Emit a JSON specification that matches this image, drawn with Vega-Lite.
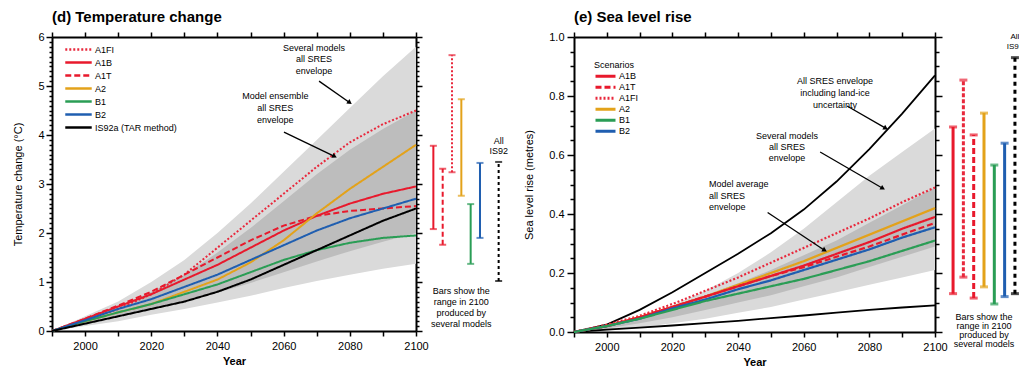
{
"$schema": "https://vega.github.io/schema/vega-lite/v6.json",
"padding": {"left": 12, "top": 10, "right": 0, "bottom": 0},
"background": "white",
"config": {
  "font": "Liberation Sans",
  "view": {"stroke": null},
  "axis": {"domainColor": "black", "domainWidth": 2, "tickColor": "black", "tickWidth": 1.5, "labelColor": "black", "labelFontSize": 11, "titleColor": "black", "titleFontSize": 11, "grid": false},
  "legend": {"labelColor": "black", "titleColor": "black"}
},
"datasets": {
  "tempEnv": [
    {"band": "Several models all SRES envelope", "year": 1990, "lower": 0, "upper": 0},
    {"band": "Several models all SRES envelope", "year": 2000, "lower": 0.1, "upper": 0.3},
    {"band": "Several models all SRES envelope", "year": 2010, "lower": 0.2, "upper": 0.6},
    {"band": "Several models all SRES envelope", "year": 2020, "lower": 0.33, "upper": 1.0},
    {"band": "Several models all SRES envelope", "year": 2030, "lower": 0.45, "upper": 1.45},
    {"band": "Several models all SRES envelope", "year": 2040, "lower": 0.58, "upper": 2.0},
    {"band": "Several models all SRES envelope", "year": 2050, "lower": 0.72, "upper": 2.6},
    {"band": "Several models all SRES envelope", "year": 2060, "lower": 0.88, "upper": 3.25},
    {"band": "Several models all SRES envelope", "year": 2070, "lower": 1.02, "upper": 3.9},
    {"band": "Several models all SRES envelope", "year": 2080, "lower": 1.15, "upper": 4.55},
    {"band": "Several models all SRES envelope", "year": 2090, "lower": 1.27, "upper": 5.2},
    {"band": "Several models all SRES envelope", "year": 2100, "lower": 1.37, "upper": 5.8},
    {"band": "Model ensemble all SRES envelope", "year": 1990, "lower": 0, "upper": 0},
    {"band": "Model ensemble all SRES envelope", "year": 2000, "lower": 0.15, "upper": 0.25},
    {"band": "Model ensemble all SRES envelope", "year": 2010, "lower": 0.3, "upper": 0.5},
    {"band": "Model ensemble all SRES envelope", "year": 2020, "lower": 0.45, "upper": 0.8},
    {"band": "Model ensemble all SRES envelope", "year": 2030, "lower": 0.6, "upper": 1.15},
    {"band": "Model ensemble all SRES envelope", "year": 2040, "lower": 0.78, "upper": 1.6},
    {"band": "Model ensemble all SRES envelope", "year": 2050, "lower": 0.98, "upper": 2.1},
    {"band": "Model ensemble all SRES envelope", "year": 2060, "lower": 1.2, "upper": 2.65},
    {"band": "Model ensemble all SRES envelope", "year": 2070, "lower": 1.42, "upper": 3.2},
    {"band": "Model ensemble all SRES envelope", "year": 2080, "lower": 1.63, "upper": 3.7},
    {"band": "Model ensemble all SRES envelope", "year": 2090, "lower": 1.82, "upper": 4.12},
    {"band": "Model ensemble all SRES envelope", "year": 2100, "lower": 2.0, "upper": 4.5}
  ],
  "tempLines": [
    {"scenario": "A1FI", "year": 1990, "value": 0}, {"scenario": "A1FI", "year": 2000, "value": 0.22}, {"scenario": "A1FI", "year": 2010, "value": 0.45}, {"scenario": "A1FI", "year": 2020, "value": 0.75}, {"scenario": "A1FI", "year": 2030, "value": 1.15}, {"scenario": "A1FI", "year": 2040, "value": 1.7}, {"scenario": "A1FI", "year": 2050, "value": 2.25}, {"scenario": "A1FI", "year": 2060, "value": 2.8}, {"scenario": "A1FI", "year": 2070, "value": 3.35}, {"scenario": "A1FI", "year": 2080, "value": 3.85}, {"scenario": "A1FI", "year": 2090, "value": 4.22}, {"scenario": "A1FI", "year": 2100, "value": 4.5},
    {"scenario": "A1B", "year": 1990, "value": 0}, {"scenario": "A1B", "year": 2000, "value": 0.25}, {"scenario": "A1B", "year": 2010, "value": 0.5}, {"scenario": "A1B", "year": 2020, "value": 0.75}, {"scenario": "A1B", "year": 2030, "value": 1.05}, {"scenario": "A1B", "year": 2040, "value": 1.35}, {"scenario": "A1B", "year": 2050, "value": 1.7}, {"scenario": "A1B", "year": 2060, "value": 2.05}, {"scenario": "A1B", "year": 2070, "value": 2.35}, {"scenario": "A1B", "year": 2080, "value": 2.6}, {"scenario": "A1B", "year": 2090, "value": 2.8}, {"scenario": "A1B", "year": 2100, "value": 2.95},
    {"scenario": "A1T", "year": 1990, "value": 0}, {"scenario": "A1T", "year": 2000, "value": 0.25}, {"scenario": "A1T", "year": 2010, "value": 0.52}, {"scenario": "A1T", "year": 2020, "value": 0.8}, {"scenario": "A1T", "year": 2030, "value": 1.15}, {"scenario": "A1T", "year": 2040, "value": 1.5}, {"scenario": "A1T", "year": 2050, "value": 1.85}, {"scenario": "A1T", "year": 2060, "value": 2.15}, {"scenario": "A1T", "year": 2070, "value": 2.35}, {"scenario": "A1T", "year": 2080, "value": 2.45}, {"scenario": "A1T", "year": 2090, "value": 2.5}, {"scenario": "A1T", "year": 2100, "value": 2.55},
    {"scenario": "A2", "year": 1990, "value": 0}, {"scenario": "A2", "year": 2000, "value": 0.2}, {"scenario": "A2", "year": 2010, "value": 0.38}, {"scenario": "A2", "year": 2020, "value": 0.55}, {"scenario": "A2", "year": 2030, "value": 0.8}, {"scenario": "A2", "year": 2040, "value": 1.05}, {"scenario": "A2", "year": 2050, "value": 1.4}, {"scenario": "A2", "year": 2060, "value": 1.85}, {"scenario": "A2", "year": 2070, "value": 2.4}, {"scenario": "A2", "year": 2080, "value": 2.9}, {"scenario": "A2", "year": 2090, "value": 3.35}, {"scenario": "A2", "year": 2100, "value": 3.8},
    {"scenario": "B1", "year": 1990, "value": 0}, {"scenario": "B1", "year": 2000, "value": 0.2}, {"scenario": "B1", "year": 2010, "value": 0.38}, {"scenario": "B1", "year": 2020, "value": 0.55}, {"scenario": "B1", "year": 2030, "value": 0.75}, {"scenario": "B1", "year": 2040, "value": 0.95}, {"scenario": "B1", "year": 2050, "value": 1.2}, {"scenario": "B1", "year": 2060, "value": 1.45}, {"scenario": "B1", "year": 2070, "value": 1.65}, {"scenario": "B1", "year": 2080, "value": 1.8}, {"scenario": "B1", "year": 2090, "value": 1.9}, {"scenario": "B1", "year": 2100, "value": 1.95},
    {"scenario": "B2", "year": 1990, "value": 0}, {"scenario": "B2", "year": 2000, "value": 0.22}, {"scenario": "B2", "year": 2010, "value": 0.45}, {"scenario": "B2", "year": 2020, "value": 0.65}, {"scenario": "B2", "year": 2030, "value": 0.9}, {"scenario": "B2", "year": 2040, "value": 1.15}, {"scenario": "B2", "year": 2050, "value": 1.45}, {"scenario": "B2", "year": 2060, "value": 1.75}, {"scenario": "B2", "year": 2070, "value": 2.05}, {"scenario": "B2", "year": 2080, "value": 2.3}, {"scenario": "B2", "year": 2090, "value": 2.5}, {"scenario": "B2", "year": 2100, "value": 2.7},
    {"scenario": "IS92a (TAR method)", "year": 1990, "value": 0}, {"scenario": "IS92a (TAR method)", "year": 2000, "value": 0.15}, {"scenario": "IS92a (TAR method)", "year": 2010, "value": 0.3}, {"scenario": "IS92a (TAR method)", "year": 2020, "value": 0.45}, {"scenario": "IS92a (TAR method)", "year": 2030, "value": 0.6}, {"scenario": "IS92a (TAR method)", "year": 2040, "value": 0.8}, {"scenario": "IS92a (TAR method)", "year": 2050, "value": 1.05}, {"scenario": "IS92a (TAR method)", "year": 2060, "value": 1.35}, {"scenario": "IS92a (TAR method)", "year": 2070, "value": 1.65}, {"scenario": "IS92a (TAR method)", "year": 2080, "value": 1.95}, {"scenario": "IS92a (TAR method)", "year": 2090, "value": 2.25}, {"scenario": "IS92a (TAR method)", "year": 2100, "value": 2.5}
  ],
  "tempBars": [
    {"scenario": "A1B", "low": 2.08, "high": 3.78},
    {"scenario": "A1T", "low": 1.76, "high": 3.31},
    {"scenario": "A1FI", "low": 3.24, "high": 5.63},
    {"scenario": "A2", "low": 2.76, "high": 4.73},
    {"scenario": "B1", "low": 1.37, "high": 2.59},
    {"scenario": "B2", "low": 1.9, "high": 3.43},
    {"scenario": "IS92", "low": 1.02, "high": 3.45}
  ],
  "seaEnv": [
    {"band": "Several models all SRES envelope", "year": 1990, "lower": 0, "upper": 0},
    {"band": "Several models all SRES envelope", "year": 2000, "lower": 0.005, "upper": 0.02},
    {"band": "Several models all SRES envelope", "year": 2010, "lower": 0.015, "upper": 0.05},
    {"band": "Several models all SRES envelope", "year": 2020, "lower": 0.03, "upper": 0.09},
    {"band": "Several models all SRES envelope", "year": 2030, "lower": 0.045, "upper": 0.14},
    {"band": "Several models all SRES envelope", "year": 2040, "lower": 0.065, "upper": 0.2},
    {"band": "Several models all SRES envelope", "year": 2050, "lower": 0.085, "upper": 0.27},
    {"band": "Several models all SRES envelope", "year": 2060, "lower": 0.11, "upper": 0.35},
    {"band": "Several models all SRES envelope", "year": 2070, "lower": 0.135, "upper": 0.44},
    {"band": "Several models all SRES envelope", "year": 2080, "lower": 0.16, "upper": 0.53},
    {"band": "Several models all SRES envelope", "year": 2090, "lower": 0.185, "upper": 0.61},
    {"band": "Several models all SRES envelope", "year": 2100, "lower": 0.21, "upper": 0.69},
    {"band": "Model average all SRES envelope", "year": 1990, "lower": 0, "upper": 0},
    {"band": "Model average all SRES envelope", "year": 2000, "lower": 0.012, "upper": 0.022},
    {"band": "Model average all SRES envelope", "year": 2010, "lower": 0.03, "upper": 0.05},
    {"band": "Model average all SRES envelope", "year": 2020, "lower": 0.05, "upper": 0.085},
    {"band": "Model average all SRES envelope", "year": 2030, "lower": 0.075, "upper": 0.125},
    {"band": "Model average all SRES envelope", "year": 2040, "lower": 0.1, "upper": 0.165},
    {"band": "Model average all SRES envelope", "year": 2050, "lower": 0.125, "upper": 0.21},
    {"band": "Model average all SRES envelope", "year": 2060, "lower": 0.155, "upper": 0.26},
    {"band": "Model average all SRES envelope", "year": 2070, "lower": 0.185, "upper": 0.31},
    {"band": "Model average all SRES envelope", "year": 2080, "lower": 0.22, "upper": 0.37},
    {"band": "Model average all SRES envelope", "year": 2090, "lower": 0.255, "upper": 0.43},
    {"band": "Model average all SRES envelope", "year": 2100, "lower": 0.29, "upper": 0.49}
  ],
  "seaLandIce": [
    {"bound": "upper", "year": 1990, "value": 0}, {"bound": "upper", "year": 2000, "value": 0.025}, {"bound": "upper", "year": 2010, "value": 0.075}, {"bound": "upper", "year": 2020, "value": 0.135}, {"bound": "upper", "year": 2030, "value": 0.2}, {"bound": "upper", "year": 2040, "value": 0.265}, {"bound": "upper", "year": 2050, "value": 0.335}, {"bound": "upper", "year": 2060, "value": 0.415}, {"bound": "upper", "year": 2070, "value": 0.51}, {"bound": "upper", "year": 2080, "value": 0.62}, {"bound": "upper", "year": 2090, "value": 0.74}, {"bound": "upper", "year": 2100, "value": 0.87},
    {"bound": "lower", "year": 1990, "value": 0}, {"bound": "lower", "year": 2000, "value": 0.008}, {"bound": "lower", "year": 2010, "value": 0.015}, {"bound": "lower", "year": 2020, "value": 0.022}, {"bound": "lower", "year": 2030, "value": 0.03}, {"bound": "lower", "year": 2040, "value": 0.038}, {"bound": "lower", "year": 2050, "value": 0.047}, {"bound": "lower", "year": 2060, "value": 0.056}, {"bound": "lower", "year": 2070, "value": 0.066}, {"bound": "lower", "year": 2080, "value": 0.075}, {"bound": "lower", "year": 2090, "value": 0.083}, {"bound": "lower", "year": 2100, "value": 0.09}
  ],
  "seaLines": [
    {"scenario": "A1FI", "year": 1990, "value": 0}, {"scenario": "A1FI", "year": 2000, "value": 0.025}, {"scenario": "A1FI", "year": 2010, "value": 0.055}, {"scenario": "A1FI", "year": 2020, "value": 0.095}, {"scenario": "A1FI", "year": 2030, "value": 0.14}, {"scenario": "A1FI", "year": 2040, "value": 0.185}, {"scenario": "A1FI", "year": 2050, "value": 0.235}, {"scenario": "A1FI", "year": 2060, "value": 0.285}, {"scenario": "A1FI", "year": 2070, "value": 0.335}, {"scenario": "A1FI", "year": 2080, "value": 0.385}, {"scenario": "A1FI", "year": 2090, "value": 0.44}, {"scenario": "A1FI", "year": 2100, "value": 0.49},
    {"scenario": "A2", "year": 1990, "value": 0}, {"scenario": "A2", "year": 2000, "value": 0.02}, {"scenario": "A2", "year": 2010, "value": 0.05}, {"scenario": "A2", "year": 2020, "value": 0.085}, {"scenario": "A2", "year": 2030, "value": 0.12}, {"scenario": "A2", "year": 2040, "value": 0.16}, {"scenario": "A2", "year": 2050, "value": 0.2}, {"scenario": "A2", "year": 2060, "value": 0.24}, {"scenario": "A2", "year": 2070, "value": 0.285}, {"scenario": "A2", "year": 2080, "value": 0.33}, {"scenario": "A2", "year": 2090, "value": 0.375}, {"scenario": "A2", "year": 2100, "value": 0.42},
    {"scenario": "A1B", "year": 1990, "value": 0}, {"scenario": "A1B", "year": 2000, "value": 0.02}, {"scenario": "A1B", "year": 2010, "value": 0.05}, {"scenario": "A1B", "year": 2020, "value": 0.085}, {"scenario": "A1B", "year": 2030, "value": 0.12}, {"scenario": "A1B", "year": 2040, "value": 0.155}, {"scenario": "A1B", "year": 2050, "value": 0.19}, {"scenario": "A1B", "year": 2060, "value": 0.225}, {"scenario": "A1B", "year": 2070, "value": 0.265}, {"scenario": "A1B", "year": 2080, "value": 0.305}, {"scenario": "A1B", "year": 2090, "value": 0.35}, {"scenario": "A1B", "year": 2100, "value": 0.39},
    {"scenario": "A1T", "year": 1990, "value": 0}, {"scenario": "A1T", "year": 2000, "value": 0.02}, {"scenario": "A1T", "year": 2010, "value": 0.05}, {"scenario": "A1T", "year": 2020, "value": 0.085}, {"scenario": "A1T", "year": 2030, "value": 0.12}, {"scenario": "A1T", "year": 2040, "value": 0.155}, {"scenario": "A1T", "year": 2050, "value": 0.19}, {"scenario": "A1T", "year": 2060, "value": 0.22}, {"scenario": "A1T", "year": 2070, "value": 0.255}, {"scenario": "A1T", "year": 2080, "value": 0.29}, {"scenario": "A1T", "year": 2090, "value": 0.33}, {"scenario": "A1T", "year": 2100, "value": 0.37},
    {"scenario": "B2", "year": 1990, "value": 0}, {"scenario": "B2", "year": 2000, "value": 0.02}, {"scenario": "B2", "year": 2010, "value": 0.045}, {"scenario": "B2", "year": 2020, "value": 0.08}, {"scenario": "B2", "year": 2030, "value": 0.11}, {"scenario": "B2", "year": 2040, "value": 0.145}, {"scenario": "B2", "year": 2050, "value": 0.175}, {"scenario": "B2", "year": 2060, "value": 0.21}, {"scenario": "B2", "year": 2070, "value": 0.245}, {"scenario": "B2", "year": 2080, "value": 0.28}, {"scenario": "B2", "year": 2090, "value": 0.32}, {"scenario": "B2", "year": 2100, "value": 0.355},
    {"scenario": "B1", "year": 1990, "value": 0}, {"scenario": "B1", "year": 2000, "value": 0.02}, {"scenario": "B1", "year": 2010, "value": 0.045}, {"scenario": "B1", "year": 2020, "value": 0.075}, {"scenario": "B1", "year": 2030, "value": 0.105}, {"scenario": "B1", "year": 2040, "value": 0.13}, {"scenario": "B1", "year": 2050, "value": 0.155}, {"scenario": "B1", "year": 2060, "value": 0.18}, {"scenario": "B1", "year": 2070, "value": 0.21}, {"scenario": "B1", "year": 2080, "value": 0.24}, {"scenario": "B1", "year": 2090, "value": 0.275}, {"scenario": "B1", "year": 2100, "value": 0.31}
  ],
  "seaBars": [
    {"scenario": "A1B", "low": 0.13, "high": 0.695},
    {"scenario": "A1FI", "low": 0.186, "high": 0.854},
    {"scenario": "A1T", "low": 0.115, "high": 0.668},
    {"scenario": "A2", "low": 0.153, "high": 0.742},
    {"scenario": "B1", "low": 0.095, "high": 0.566},
    {"scenario": "B2", "low": 0.12, "high": 0.64},
    {"scenario": "IS92", "low": 0.13, "high": 0.93}
  ]
},
"resolve": {"scale": {"color": "independent", "strokeDash": "independent"}},
"spacing": 15,
"hconcat": [
  {
    "spacing": 0,
    "resolve": {"scale": {"color": "independent", "strokeDash": "independent"}},
    "hconcat": [
      {
        "width": 364, "height": 294,
        "title": {"text": "(d) Temperature change", "anchor": "start", "frame": "group", "fontSize": 15, "fontWeight": "bold", "offset": 6, "color": "black"},
        "resolve": {"axis": {"x": "independent", "y": "independent"}},
        "layer": [
          {
            "data": {"name": "tempEnv"},
            "transform": [{"filter": "datum.band === 'Several models all SRES envelope'"}],
            "mark": {"type": "area", "color": "#dadada"},
            "encoding": {
              "x": {"field": "year", "type": "quantitative", "scale": {"domain": [1990, 2100], "nice": false, "zero": false},
                    "axis": {"orient": "bottom", "values": [1990, 2000, 2010, 2020, 2030, 2040, 2050, 2060, 2070, 2080, 2090, 2100], "format": "d", "labelExpr": "datum.value % 20 === 0 ? datum.label : ''", "labelFlush": false, "labelOverlap": false, "tickSize": 5, "labelPadding": 4, "title": "Year", "titleFontWeight": "bold", "titlePadding": 4}},
              "y": {"field": "lower", "type": "quantitative", "scale": {"domain": [0, 6], "nice": false},
                    "axis": {"orient": "left", "tickCount": 60, "labelExpr": "abs(datum.value - round(datum.value)) < 0.001 ? format(datum.value, 'd') : ''", "labelOverlap": false, "tickSize": {"condition": {"test": "abs(datum.value - round(datum.value)) < 0.001", "value": 6}, "value": 3}, "labelPadding": 2, "title": "Temperature change (°C)", "titleFontWeight": "normal", "titlePadding": 14}},
              "y2": {"field": "upper"}
            }
          },
          {
            "data": {"name": "tempEnv"},
            "transform": [{"filter": "datum.band === 'Model ensemble all SRES envelope'"}],
            "mark": {"type": "area", "color": "#bdbdbd"},
            "encoding": {
              "x": {"field": "year", "type": "quantitative", "axis": {"orient": "top", "values": [1990, 2000, 2010, 2020, 2030, 2040, 2050, 2060, 2070, 2080, 2090, 2100], "labels": false, "title": null, "tickSize": 5}},
              "y": {"field": "lower", "type": "quantitative", "axis": {"orient": "right", "tickCount": 60, "labels": false, "title": null, "tickSize": {"condition": {"test": "abs(datum.value - round(datum.value)) < 0.001", "value": 6}, "value": 3}}},
              "y2": {"field": "upper"}
            }
          },
          {
            "data": {"name": "tempLines"},
            "mark": {"type": "line", "strokeWidth": 2},
            "encoding": {
              "x": {"field": "year", "type": "quantitative", "axis": null},
              "y": {"field": "value", "type": "quantitative", "axis": null},
              "color": {"field": "scenario", "type": "nominal",
                        "scale": {"domain": ["A1FI", "A1B", "A1T", "A2", "B1", "B2", "IS92a (TAR method)"], "range": ["#e8283c", "#e8192c", "#e8192c", "#e3a21a", "#2a9d55", "#1f5eb0", "#000000"]},
                        "legend": {"orient": "none", "legendX": 12, "legendY": 6, "title": null, "symbolType": "stroke", "symbolSize": 700, "symbolStrokeWidth": 2.5, "labelFontSize": 9, "clipHeight": 13, "rowPadding": 0, "labelOffset": 2, "padding": 0}},
              "strokeDash": {"field": "scenario", "type": "nominal",
                        "scale": {"domain": ["A1FI", "A1B", "A1T", "A2", "B1", "B2", "IS92a (TAR method)"], "range": [[2, 2], [1, 0], [6, 3], [1, 0], [1, 0], [1, 0], [1, 0]]},
                        "legend": {"orient": "none", "legendX": 12, "legendY": 6, "title": null, "symbolType": "stroke", "symbolSize": 700, "symbolStrokeWidth": 2.5, "labelFontSize": 9, "clipHeight": 13, "rowPadding": 0, "labelOffset": 2, "padding": 0}}
            }
          },
          {
            "data": {"values": [{}]},
            "mark": {"type": "text", "text": ["Several models", "all SRES", "envelope"], "fontSize": 9, "lineHeight": 11.5, "align": "center", "baseline": "top", "color": "black"},
            "encoding": {"x": {"datum": 2069.2, "type": "quantitative", "axis": null}, "y": {"datum": 5.86, "type": "quantitative", "axis": null}}
          },
          {
            "data": {"values": [{}]},
            "mark": {"type": "text", "text": ["Model ensemble", "all SRES", "envelope"], "fontSize": 9, "lineHeight": 12, "align": "center", "baseline": "top", "color": "black"},
            "encoding": {"x": {"datum": 2057.5, "type": "quantitative", "axis": null}, "y": {"datum": 4.88, "type": "quantitative", "axis": null}}
          },
          {
            "data": {"values": [{}]},
            "mark": {"type": "rule", "color": "black", "strokeWidth": 1.3},
            "encoding": {"x": {"datum": 2070.7, "type": "quantitative", "axis": null}, "y": {"datum": 5.1, "type": "quantitative", "axis": null}, "x2": {"datum": 2079.8}, "y2": {"datum": 4.67}}
          },
          {
            "data": {"values": [{}]},
            "mark": {"type": "rule", "color": "black", "strokeWidth": 1.3},
            "encoding": {"x": {"datum": 2060.1, "type": "quantitative", "axis": null}, "y": {"datum": 4.06, "type": "quantitative", "axis": null}, "x2": {"datum": 2075.2}, "y2": {"datum": 3.57}}
          },
          {
            "data": {"values": [{}]},
            "mark": {"type": "point", "shape": "triangle", "angle": 125, "filled": true, "color": "black", "opacity": 1, "size": 30},
            "encoding": {"x": {"datum": 2079.8, "type": "quantitative", "axis": null}, "y": {"datum": 4.67, "type": "quantitative", "axis": null}}
          },
          {
            "data": {"values": [{}]},
            "mark": {"type": "point", "shape": "triangle", "angle": 116, "filled": true, "color": "black", "opacity": 1, "size": 30},
            "encoding": {"x": {"datum": 2075.2, "type": "quantitative", "axis": null}, "y": {"datum": 3.57, "type": "quantitative", "axis": null}}
          }
        ]
      },
      {
        "width": 72, "height": 294,
        "layer": [
          {
            "data": {"name": "tempBars"},
            "mark": {"type": "rule", "strokeWidth": 2},
            "encoding": {
              "x": {"field": "scenario", "type": "nominal", "scale": {"type": "point", "domain": ["A1B", "A1T", "A1FI", "A2", "B1", "B2", "spacer", "IS92"], "padding": 0.36}, "axis": null},
              "y": {"field": "low", "type": "quantitative", "scale": {"domain": [0, 6], "nice": false}, "axis": null},
              "y2": {"field": "high"},
              "color": {"field": "scenario", "type": "nominal", "scale": {"domain": ["A1B", "A1T", "A1FI", "A2", "B1", "B2", "IS92"], "range": ["#e8192c", "#e8192c", "#e8283c", "#e3a21a", "#2a9d55", "#1f5eb0", "#000000"]}, "legend": null},
              "strokeDash": {"field": "scenario", "type": "nominal", "scale": {"domain": ["A1B", "A1T", "A1FI", "A2", "B1", "B2", "IS92"], "range": [[1, 0], [5, 3], [2, 2], [1, 0], [1, 0], [1, 0], [3, 3]]}, "legend": null}
            }
          },
          {
            "data": {"name": "tempBars"},
            "mark": {"type": "tick", "thickness": 2, "size": 7},
            "encoding": {
              "x": {"field": "scenario", "type": "nominal", "axis": null},
              "y": {"field": "low", "type": "quantitative", "axis": null},
              "color": {"field": "scenario", "type": "nominal", "legend": null}
            }
          },
          {
            "data": {"name": "tempBars"},
            "mark": {"type": "tick", "thickness": 2, "size": 7},
            "encoding": {
              "x": {"field": "scenario", "type": "nominal", "axis": null},
              "y": {"field": "high", "type": "quantitative", "axis": null},
              "color": {"field": "scenario", "type": "nominal", "legend": null}
            }
          },
          {
            "data": {"values": [{}]},
            "mark": {"type": "text", "text": ["All", "IS92"], "fontSize": 9, "lineHeight": 10, "align": "center", "baseline": "top", "color": "black"},
            "encoding": {"x": {"datum": "IS92", "type": "nominal", "axis": null}, "y": {"datum": 3.96, "type": "quantitative", "axis": null}}
          },
          {
            "data": {"values": [{}]},
            "mark": {"type": "text", "text": ["Bars show the", "range in 2100", "produced by", "several models"], "fontSize": 9, "lineHeight": 11, "align": "center", "baseline": "top", "color": "black"},
            "encoding": {"x": {"datum": "A2", "type": "nominal", "axis": null}, "y": {"datum": 0.9, "type": "quantitative", "axis": null}}
          }
        ]
      }
    ]
  },
  {
    "spacing": 0,
    "resolve": {"scale": {"color": "independent", "strokeDash": "independent"}},
    "hconcat": [
      {
        "width": 361, "height": 295,
        "title": {"text": "(e) Sea level rise", "anchor": "start", "frame": "group", "fontSize": 15, "fontWeight": "bold", "offset": 6, "color": "black"},
        "resolve": {"axis": {"x": "independent", "y": "independent"}},
        "layer": [
          {
            "data": {"name": "seaEnv"},
            "transform": [{"filter": "datum.band === 'Several models all SRES envelope'"}],
            "mark": {"type": "area", "color": "#dadada"},
            "encoding": {
              "x": {"field": "year", "type": "quantitative", "scale": {"domain": [1990, 2100], "nice": false, "zero": false},
                    "axis": {"orient": "bottom", "values": [1990, 2000, 2010, 2020, 2030, 2040, 2050, 2060, 2070, 2080, 2090, 2100], "format": "d", "labelExpr": "datum.value % 20 === 0 ? datum.label : ''", "labelFlush": false, "labelOverlap": false, "tickSize": 5, "labelPadding": 4, "title": "Year", "titleFontWeight": "bold", "titlePadding": 4}},
              "y": {"field": "lower", "type": "quantitative", "scale": {"domain": [0, 1], "nice": false},
                    "axis": {"orient": "left", "tickCount": 20, "labelExpr": "abs(datum.value * 5 - round(datum.value * 5)) < 0.001 ? format(datum.value, '.1f') : ''", "labelOverlap": false, "tickSize": {"condition": {"test": "abs(datum.value * 5 - round(datum.value * 5)) < 0.001", "value": 7}, "value": 4}, "labelPadding": 3, "title": "Sea level rise (metres)", "titleFontWeight": "normal", "titlePadding": 14}},
              "y2": {"field": "upper"}
            }
          },
          {
            "data": {"name": "seaEnv"},
            "transform": [{"filter": "datum.band === 'Model average all SRES envelope'"}],
            "mark": {"type": "area", "color": "#bdbdbd"},
            "encoding": {
              "x": {"field": "year", "type": "quantitative", "axis": {"orient": "top", "values": [1990, 2000, 2010, 2020, 2030, 2040, 2050, 2060, 2070, 2080, 2090, 2100], "labels": false, "title": null, "tickSize": 5}},
              "y": {"field": "lower", "type": "quantitative", "axis": {"orient": "right", "tickCount": 20, "labels": false, "title": null, "tickSize": {"condition": {"test": "abs(datum.value * 5 - round(datum.value * 5)) < 0.001", "value": 7}, "value": 4}}},
              "y2": {"field": "upper"}
            }
          },
          {
            "data": {"name": "seaLandIce"},
            "mark": {"type": "line", "strokeWidth": 1.8, "color": "black"},
            "encoding": {
              "x": {"field": "year", "type": "quantitative", "axis": null},
              "y": {"field": "value", "type": "quantitative", "axis": null},
              "detail": {"field": "bound", "type": "nominal"}
            }
          },
          {
            "data": {"name": "seaLines"},
            "mark": {"type": "line", "strokeWidth": 2.2},
            "encoding": {
              "x": {"field": "year", "type": "quantitative", "axis": null},
              "y": {"field": "value", "type": "quantitative", "axis": null},
              "color": {"field": "scenario", "type": "nominal",
                        "scale": {"domain": ["A1B", "A1T", "A1FI", "A2", "B1", "B2"], "range": ["#e8192c", "#e8192c", "#e8283c", "#e3a21a", "#2a9d55", "#1f5eb0"]},
                        "legend": {"orient": "none", "legendX": 20, "legendY": 24, "title": "Scenarios", "titleFontSize": 9, "titleFontWeight": "normal", "titlePadding": 1, "symbolType": "stroke", "symbolSize": 400, "symbolStrokeWidth": 3, "labelFontSize": 9, "clipHeight": 10.5, "rowPadding": 0, "labelOffset": 2, "padding": 0}},
              "strokeDash": {"field": "scenario", "type": "nominal",
                        "scale": {"domain": ["A1B", "A1T", "A1FI", "A2", "B1", "B2"], "range": [[1, 0], [6, 3], [2, 2], [1, 0], [1, 0], [1, 0]]},
                        "legend": {"orient": "none", "legendX": 20, "legendY": 24, "title": "Scenarios", "titleFontSize": 9, "titleFontWeight": "normal", "titlePadding": 1, "symbolType": "stroke", "symbolSize": 400, "symbolStrokeWidth": 3, "labelFontSize": 9, "clipHeight": 10.5, "rowPadding": 0, "labelOffset": 2, "padding": 0}}
            }
          },
          {
            "data": {"values": [{}]},
            "mark": {"type": "text", "text": ["All SRES envelope", "including land-ice", "uncertainty"], "fontSize": 9, "lineHeight": 12, "align": "center", "baseline": "top", "color": "black"},
            "encoding": {"x": {"datum": 2069.5, "type": "quantitative", "axis": null}, "y": {"datum": 0.864, "type": "quantitative", "axis": null}}
          },
          {
            "data": {"values": [{}]},
            "mark": {"type": "text", "text": ["Several models", "all SRES", "envelope"], "fontSize": 9, "lineHeight": 11, "align": "center", "baseline": "top", "color": "black"},
            "encoding": {"x": {"datum": 2054.9, "type": "quantitative", "axis": null}, "y": {"datum": 0.678, "type": "quantitative", "axis": null}}
          },
          {
            "data": {"values": [{}]},
            "mark": {"type": "text", "text": ["Model average", "all SRES", "envelope"], "fontSize": 9, "lineHeight": 11.5, "align": "left", "baseline": "top", "color": "black"},
            "encoding": {"x": {"datum": 2031.1, "type": "quantitative", "axis": null}, "y": {"datum": 0.515, "type": "quantitative", "axis": null}}
          },
          {
            "data": {"values": [{}]},
            "mark": {"type": "rule", "color": "black", "strokeWidth": 1.3},
            "encoding": {"x": {"datum": 2073.2, "type": "quantitative", "axis": null}, "y": {"datum": 0.766, "type": "quantitative", "axis": null}, "x2": {"datum": 2084.8}, "y2": {"datum": 0.692}}
          },
          {
            "data": {"values": [{}]},
            "mark": {"type": "rule", "color": "black", "strokeWidth": 1.3},
            "encoding": {"x": {"datum": 2065.0, "type": "quantitative", "axis": null}, "y": {"datum": 0.61, "type": "quantitative", "axis": null}, "x2": {"datum": 2083.9}, "y2": {"datum": 0.488}}
          },
          {
            "data": {"values": [{}]},
            "mark": {"type": "rule", "color": "black", "strokeWidth": 1.3},
            "encoding": {"x": {"datum": 2049.0, "type": "quantitative", "axis": null}, "y": {"datum": 0.405, "type": "quantitative", "axis": null}, "x2": {"datum": 2066.2}, "y2": {"datum": 0.278}}
          },
          {
            "data": {"values": [{}]},
            "mark": {"type": "point", "shape": "triangle", "angle": 121, "filled": true, "color": "black", "opacity": 1, "size": 30},
            "encoding": {"x": {"datum": 2084.8, "type": "quantitative", "axis": null}, "y": {"datum": 0.692, "type": "quantitative", "axis": null}}
          },
          {
            "data": {"values": [{}]},
            "mark": {"type": "point", "shape": "triangle", "angle": 120, "filled": true, "color": "black", "opacity": 1, "size": 30},
            "encoding": {"x": {"datum": 2083.9, "type": "quantitative", "axis": null}, "y": {"datum": 0.488, "type": "quantitative", "axis": null}}
          },
          {
            "data": {"values": [{}]},
            "mark": {"type": "point", "shape": "triangle", "angle": 120, "filled": true, "color": "black", "opacity": 1, "size": 30},
            "encoding": {"x": {"datum": 2066.2, "type": "quantitative", "axis": null}, "y": {"datum": 0.278, "type": "quantitative", "axis": null}}
          }
        ]
      },
      {
        "width": 66, "height": 295,
        "view": {"stroke": "transparent"},
        "layer": [
          {
            "data": {"name": "seaBars"},
            "mark": {"type": "rule", "strokeWidth": 3},
            "encoding": {
              "x": {"field": "scenario", "type": "nominal", "scale": {"type": "point", "domain": ["A1B", "A1FI", "A1T", "A2", "B1", "B2", "IS92"], "padding": 0.2}, "axis": null},
              "y": {"field": "low", "type": "quantitative", "scale": {"domain": [0, 1], "nice": false}, "axis": null},
              "y2": {"field": "high"},
              "color": {"field": "scenario", "type": "nominal", "scale": {"domain": ["A1B", "A1FI", "A1T", "A2", "B1", "B2", "IS92"], "range": ["#e8192c", "#e8283c", "#e8192c", "#e3a21a", "#2a9d55", "#1f5eb0", "#000000"]}, "legend": null},
              "strokeDash": {"field": "scenario", "type": "nominal", "scale": {"domain": ["A1B", "A1FI", "A1T", "A2", "B1", "B2", "IS92"], "range": [[1, 0], [4, 2], [6, 3], [1, 0], [1, 0], [1, 0], [4, 4]]}, "legend": null}
            }
          },
          {
            "data": {"name": "seaBars"},
            "mark": {"type": "tick", "thickness": 3, "size": 8},
            "encoding": {
              "x": {"field": "scenario", "type": "nominal", "axis": null},
              "y": {"field": "low", "type": "quantitative", "axis": null},
              "color": {"field": "scenario", "type": "nominal", "legend": null}
            }
          },
          {
            "data": {"name": "seaBars"},
            "mark": {"type": "tick", "thickness": 3, "size": 8},
            "encoding": {
              "x": {"field": "scenario", "type": "nominal", "axis": null},
              "y": {"field": "high", "type": "quantitative", "axis": null},
              "color": {"field": "scenario", "type": "nominal", "legend": null}
            }
          },
          {
            "data": {"values": [{}]},
            "mark": {"type": "text", "text": ["All", "IS92"], "fontSize": 8, "lineHeight": 10, "align": "center", "baseline": "top", "color": "black"},
            "encoding": {"x": {"datum": "IS92", "type": "nominal", "axis": null}, "y": {"datum": 1.014, "type": "quantitative", "axis": null}}
          },
          {
            "data": {"values": [{}]},
            "mark": {"type": "text", "text": ["Bars show the", "range in 2100", "produced by", "several models"], "fontSize": 9, "lineHeight": 9, "align": "center", "baseline": "top", "color": "black"},
            "encoding": {"x": {"datum": "A2", "type": "nominal", "axis": null}, "y": {"datum": 0.064, "type": "quantitative", "axis": null}}
          }
        ]
      }
    ]
  }
]
}
